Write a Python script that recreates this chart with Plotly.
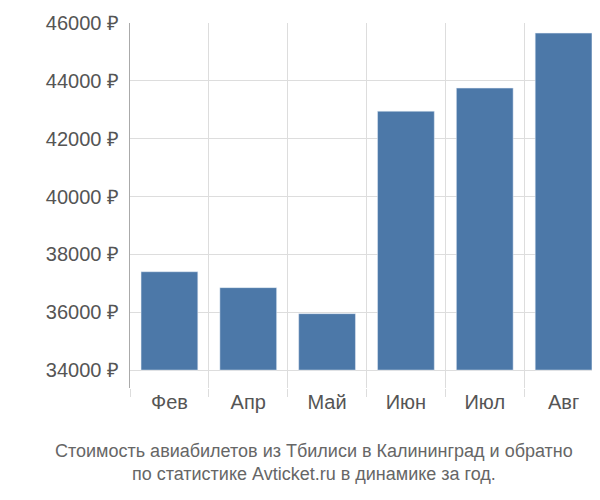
import plotly.graph_objects as go

months = ["Фев", "Апр", "Май", "Июн", "Июл", "Авг"]
prices = [37400, 36850, 35950, 42950, 43750, 45650]
base_price = 34000
tick_vals = [34000, 36000, 38000, 40000, 42000, 44000, 46000]
tick_text = [f"{v} ₽" for v in tick_vals]

xs = list(range(len(months)))

fig = go.Figure(go.Bar(
    x=xs,
    y=[p - base_price for p in prices],
    base=base_price,
    width=0.72,
    marker_color="#4c78a8",
    hovertext=[f"{m}: {p} ₽" for m, p in zip(months, prices)],
    hoverinfo="text",
))

fig.update_layout(
    width=600, height=500,
    margin=dict(l=122, r=5, t=15, b=120, autoexpand=False),
    plot_bgcolor="white", paper_bgcolor="white",
    font=dict(family="Liberation Sans, Arial, sans-serif", size=20, color="#555555"),
    showlegend=False,
    annotations=[dict(
        text="Стоимость авиабилетов из Тбилиси в Калининград и обратно<br>по статистике Avticket.ru в динамике за год.",
        xref="paper", yref="paper", x=0.39, y=-0.14, xanchor="center", yanchor="top",
        showarrow=False, font=dict(size=18, color="#666666"),
    )],
)
fig.update_xaxes(
    automargin=False,
    range=[-0.5, 5.5], tickvals=xs, ticktext=months, showgrid=False,
    minor=dict(tick0=-0.5, dtick=1, showgrid=True, gridcolor="#dddddd", ticks="outside",
               ticklen=8, tickcolor="#dddddd"),
    showline=False, zeroline=False, ticks="",
)
fig.update_yaxes(
    automargin=False,
    range=[33380, 46000], tickvals=tick_vals, ticktext=tick_text,
    showgrid=True, gridcolor="#dddddd", zeroline=False,
    showline=True, linecolor="#aaaaaa", ticks="", ticklabelstandoff=6,
)

fig.write_html("out.html")
